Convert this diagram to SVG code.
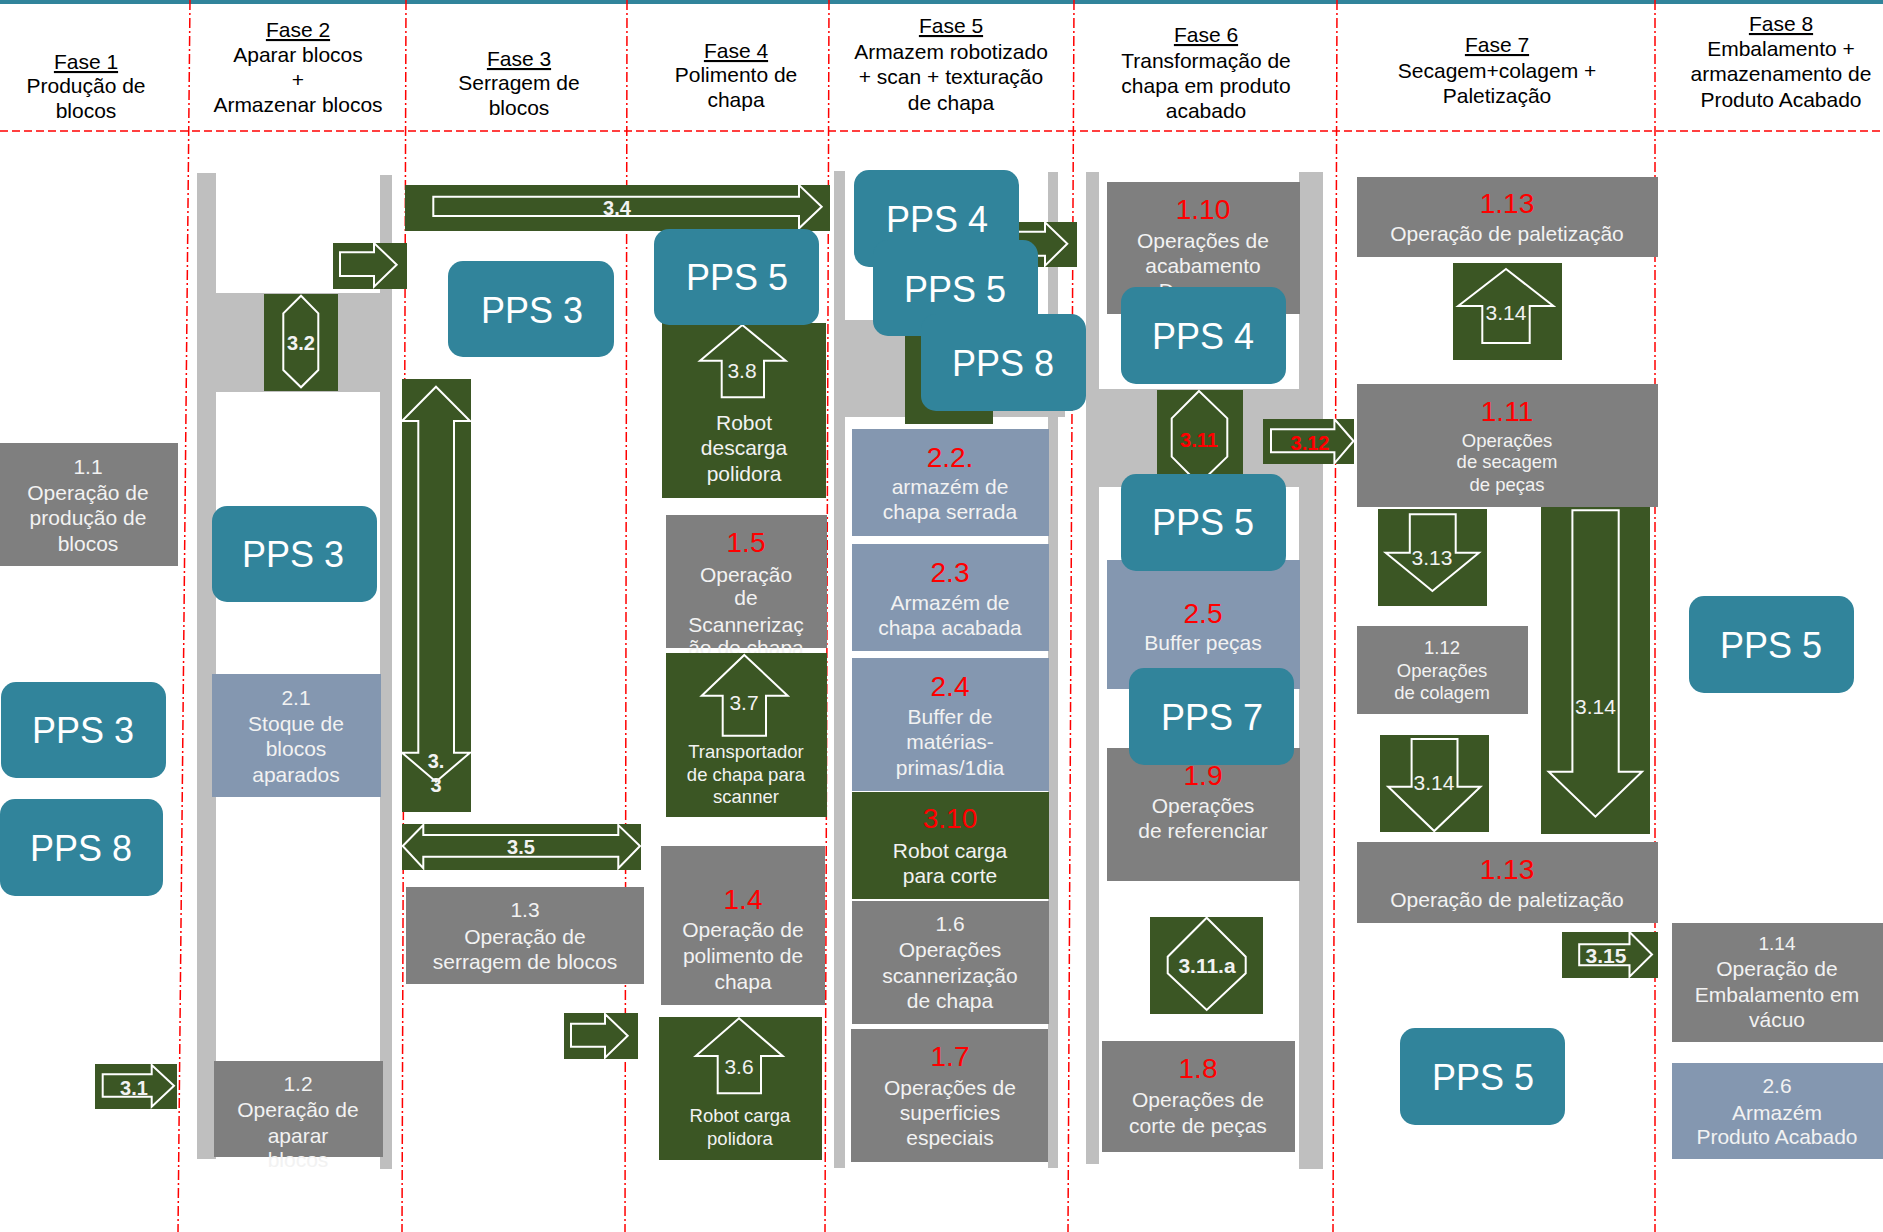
<svg xmlns="http://www.w3.org/2000/svg" width="1883" height="1232" viewBox="0 0 1883 1232">
<style>
text{font-family:"Liberation Sans",Arial,sans-serif;text-anchor:middle}
.hd{font-size:21px;fill:#000}
.u{text-decoration:underline}
.bx{font-size:21px;fill:#F2F2F2}
.sm{font-size:18.5px;fill:#F2F2F2}
.rn{font-size:28px;fill:#FF0000}
.pps{font-size:36px;fill:#FFFFFF}
.al{font-size:21px;fill:#F2F2F2}
.ab{font-size:20px;font-weight:bold;fill:#F2F2F2}
.abr{font-size:20px;font-weight:bold;fill:#FF0000}
.g{fill:#3B5624}
.gr{fill:#7F7F7F}
.bg{fill:#8497B0}
.rail{fill:#BFBFBF}
.pp{fill:#31849B}
.arw{fill:none;stroke:#FFFFFF;stroke-width:2;stroke-linejoin:miter}
.dv{stroke:#FF0000;stroke-width:1.5;stroke-dasharray:10 3 2 3;fill:none}
.dh{stroke:#FF0000;stroke-width:1.5;stroke-dasharray:8 4;fill:none}
</style>

<g id="background">
<rect x="0" y="0" width="1883" height="1232" fill="#FFFFFF"/>
<rect x="0" y="0" width="1883" height="4" fill="#31849B"/>
<line class="dh" x1="0" y1="131" x2="1883" y2="131"/>
<line class="dv" x1="190" y1="0" x2="178" y2="1232"/>
<line class="dv" x1="406" y1="0" x2="402" y2="1232"/>
<line class="dv" x1="627" y1="0" x2="625" y2="1232"/>
<line class="dv" x1="829" y1="0" x2="825" y2="1232"/>
<line class="dv" x1="1074" y1="0" x2="1068" y2="1232"/>
<line class="dv" x1="1337" y1="0" x2="1333" y2="1232"/>
<line class="dv" x1="1655" y1="0" x2="1655" y2="1232"/>
<!-- rails -->
<rect class="rail" x="197" y="173" width="19" height="986"/>
<rect class="rail" x="380" y="175" width="12" height="994"/>
<rect class="rail" x="216" y="293" width="164" height="99"/>
<rect class="rail" x="834" y="171" width="11" height="997"/>
<rect class="rail" x="1048" y="172" width="10" height="996"/>
<rect class="rail" x="845" y="320" width="220" height="97"/>
<rect class="rail" x="1086" y="172" width="13" height="992"/>
<rect class="rail" x="1299" y="172" width="24" height="997"/>
<rect class="rail" x="1099" y="389" width="200" height="98"/>
</g>

<g id="headers">
<text class="hd" x="86"><tspan class="u" x="86" y="69">Fase 1</tspan><tspan x="86" y="93">Produção de</tspan><tspan x="86" y="118">blocos</tspan></text>
<text class="hd"><tspan class="u" x="298" y="37">Fase 2</tspan><tspan x="298" y="62">Aparar blocos</tspan><tspan x="298" y="87">+</tspan><tspan x="298" y="112">Armazenar blocos</tspan></text>
<text class="hd"><tspan class="u" x="519" y="66">Fase 3</tspan><tspan x="519" y="90">Serragem de</tspan><tspan x="519" y="115">blocos</tspan></text>
<text class="hd"><tspan class="u" x="736" y="58">Fase 4</tspan><tspan x="736" y="82">Polimento de</tspan><tspan x="736" y="107">chapa</tspan></text>
<text class="hd"><tspan class="u" x="951" y="33">Fase 5</tspan><tspan x="951" y="59">Armazem robotizado</tspan><tspan x="951" y="84">+ scan + texturação</tspan><tspan x="951" y="110">de chapa</tspan></text>
<text class="hd"><tspan class="u" x="1206" y="42">Fase 6</tspan><tspan x="1206" y="68">Transformação de</tspan><tspan x="1206" y="93">chapa em produto</tspan><tspan x="1206" y="118">acabado</tspan></text>
<text class="hd"><tspan class="u" x="1497" y="52">Fase 7</tspan><tspan x="1497" y="78">Secagem+colagem +</tspan><tspan x="1497" y="103">Paletização</tspan></text>
<text class="hd"><tspan class="u" x="1781" y="31">Fase 8</tspan><tspan x="1781" y="56">Embalamento +</tspan><tspan x="1781" y="81">armazenamento de</tspan><tspan x="1781" y="107">Produto Acabado</tspan></text>
</g>

<g id="connectors">
<g id="c3-1"><rect class="g" x="95" y="1064" width="82" height="45"/><path class="arw" d="M102.7 1074.3H151.7V1065L174 1085.7L151.7 1106.7V1096.7H102.7Z"/><text class="ab" x="134" y="1095">3.1</text></g>
<g id="c3-2"><rect class="g" x="264" y="294" width="74" height="97"/><path class="arw" d="M301 295.7L318.3 313.3V370L301 387.3L283.3 370V313.3Z"/><text class="ab" x="301" y="350">3.2</text></g>
<g id="c-f2"><rect class="g" x="333" y="243" width="74" height="46"/><path class="arw" d="M340 252.3H374V243L396.7 264.7L374 286.7V276H340Z"/></g>
<g id="c3-3"><rect class="g" x="402" y="379" width="69" height="433"/><path class="arw" d="M436 386.7L470 421H454V752.7H470L436 781.7L402 752.7H418.3V421H402Z"/><text class="ab"><tspan x="436" y="768">3.</tspan><tspan x="436" y="792">3</tspan></text></g>
<g id="c3-4"><rect class="g" x="405" y="185" width="425" height="46"/><path class="arw" d="M433.3 196.7H799V185L821.7 206.7L799 228.3V216H433.3Z"/><text class="ab" x="617" y="215">3.4</text></g>
<g id="c3-5"><rect class="g" x="402" y="824" width="239" height="46"/><path class="arw" d="M402.7 846L423.3 825V835H618.3V825L640 846L618.3 868.3V856.7H423.3V868.3Z"/><text class="ab" x="521" y="854">3.5</text></g>
<g id="c-f3"><rect class="g" x="564" y="1013" width="74" height="46"/><path class="arw" d="M571 1023.7H605V1014L627.7 1035.7L605 1057.7V1046.7H571Z"/></g>
<g id="c-f5a"><rect class="g" x="905" y="300" width="88" height="124"/></g>
<g id="c-f5b"><rect class="g" x="1010" y="222" width="67" height="45"/><path class="arw" d="M1012 231.7H1045V222.3L1067.3 243.7L1045 265.7V255.7H1012Z"/></g>
<g id="c3-11"><rect class="g" x="1157" y="390" width="86" height="84"/><path class="arw" d="M1199 391L1227.3 418.3V456.7L1199 484L1171.7 456.7V418.3Z"/><text class="abr" x="1199" y="447">3.11</text></g>
<g id="c3-11a"><rect class="g" x="1150" y="917" width="113" height="97"/><path class="arw" d="M1206.7 917.7L1245.7 956.7V973.3L1206.7 1010L1167.7 973.3V956.7Z"/><text class="ab" x="1207" y="973" style="font-size:21px">3.11.a</text></g>
<g id="c3-12"><rect class="g" x="1263" y="419" width="91" height="45"/><path class="arw" d="M1271 429.3H1334.4V419L1353.5 441L1334.4 463.3V452.3H1271Z"/><text class="abr" x="1310" y="450">3.12</text></g>
<g id="c3-14a"><rect class="g" x="1453" y="263" width="109" height="97"/><path class="arw" d="M1506 269L1553.4 306H1529.7V343H1482.3V306H1458.2Z"/><text class="al" x="1506" y="320">3.14</text></g>
<g id="c3-13"><rect class="g" x="1378" y="509" width="109" height="97"/><path class="arw" d="M1409.8 514.3H1455.7V552.7H1479L1432.4 591L1385.7 552.7H1409.8Z"/><text class="al" x="1432" y="565">3.13</text></g>
<g id="c3-14b"><rect class="g" x="1380" y="735" width="109" height="97"/><path class="arw" d="M1411.6 739H1457.5V786.7H1480.5L1434.2 831L1388.2 786.7H1411.6Z"/><text class="al" x="1434" y="790">3.14</text></g>
<g id="c3-14c"><rect class="g" x="1541" y="507" width="109" height="327"/><path class="arw" d="M1572.4 510.3H1618.7V771.7H1642L1595.4 816.7L1548.7 771.7H1572.4Z"/><text class="al" x="1595.5" y="714">3.14</text></g>
<g id="c3-15"><rect class="g" x="1562" y="932" width="96" height="46"/><path class="arw" d="M1579.2 944.3H1629.5V932L1652 954.5L1629.5 976.7V965.3H1579.2Z"/><text class="ab" x="1606" y="963" style="font-size:21px">3.15</text></g>
</g>

<g id="nodes">
<!-- Phase 1 -->
<g id="n1-1"><rect class="gr" x="0" y="443" width="178" height="123"/><text class="bx"><tspan x="88" y="474">1.1</tspan><tspan x="88" y="500">Operação de</tspan><tspan x="88" y="525">produção de</tspan><tspan x="88" y="551">blocos</tspan></text></g>
<g id="pps3-f1"><rect class="pp" x="1" y="682" width="165" height="96" rx="15"/><text class="pps" x="83" y="743">PPS 3</text></g>
<g id="pps8-f1"><rect class="pp" x="0" y="799" width="163" height="97" rx="15"/><text class="pps" x="81" y="861">PPS 8</text></g>
<!-- Phase 2 -->
<g id="pps3-f2"><rect class="pp" x="212" y="506" width="165" height="96" rx="15"/><text class="pps" x="293" y="567">PPS 3</text></g>
<g id="n2-1"><rect class="bg" x="212" y="674" width="169" height="123"/><text class="bx"><tspan x="296" y="705">2.1</tspan><tspan x="296" y="731">Stoque de</tspan><tspan x="296" y="756">blocos</tspan><tspan x="296" y="782">aparados</tspan></text></g>
<g id="n1-2"><rect class="gr" x="214" y="1061" width="169" height="96"/><text class="bx"><tspan x="298" y="1091">1.2</tspan><tspan x="298" y="1117">Operação de</tspan><tspan x="298" y="1143">aparar</tspan><tspan x="298" y="1167">blocos</tspan></text></g>
<!-- Phase 3 -->
<g id="pps3-f3"><rect class="pp" x="448" y="261" width="166" height="96" rx="15"/><text class="pps" x="532" y="323">PPS 3</text></g>
<g id="n1-3"><rect class="gr" x="406" y="887" width="238" height="97"/><text class="bx"><tspan x="525" y="917">1.3</tspan><tspan x="525" y="944">Operação de</tspan><tspan x="525" y="969">serragem de blocos</tspan></text></g>
<!-- Phase 4 -->
<g id="n3-8"><rect class="g" x="662" y="323" width="164" height="175"/><path class="arw" d="M742.3 325L785.7 360.7H764V397.3H721.7V360.7H700Z"/><text class="al" x="742" y="378">3.8</text><text class="bx"><tspan x="744" y="430">Robot</tspan><tspan x="744" y="455">descarga</tspan><tspan x="744" y="481">polidora</tspan></text></g>
<g id="pps5-f4"><rect class="pp" x="654" y="229" width="165" height="96" rx="15"/><text class="pps" x="737" y="290">PPS 5</text></g>
<g id="n1-5"><rect class="gr" x="666" y="515" width="161" height="133"/><text class="rn" x="746" y="552">1.5</text><text class="bx"><tspan x="746" y="582">Operação</tspan><tspan x="746" y="605">de</tspan><tspan x="746" y="632">Scannerizaç</tspan><tspan x="746" y="655">ão de chapa</tspan></text></g>
<g id="n3-7"><rect class="g" x="666" y="653" width="161" height="164"/><path class="arw" d="M744.3 655L787.7 695.7H766V735.7H722.7V695.7H701.7Z"/><text class="al" x="744" y="710">3.7</text><text class="sm"><tspan x="746" y="758">Transportador</tspan><tspan x="746" y="781">de chapa para</tspan><tspan x="746" y="803">scanner</tspan></text></g>
<g id="n1-4"><rect class="gr" x="661" y="846" width="164" height="159"/><text class="rn" x="743" y="909">1.4</text><text class="bx"><tspan x="743" y="937">Operação de</tspan><tspan x="743" y="963">polimento de</tspan><tspan x="743" y="989">chapa</tspan></text></g>
<g id="n3-6"><rect class="g" x="659" y="1017" width="163" height="143"/><path class="arw" d="M739 1018.3L782.7 1056H761V1093.3H717.7V1056H695.7Z"/><text class="al" x="739" y="1074">3.6</text><text class="sm"><tspan x="740" y="1122">Robot carga</tspan><tspan x="740" y="1145">polidora</tspan></text></g>
<!-- Phase 5 -->
<g id="n2-2"><rect class="bg" x="852" y="429" width="197" height="107"/><text class="rn" x="950" y="467">2.2.</text><text class="bx"><tspan x="950" y="494">armazém de</tspan><tspan x="950" y="519">chapa serrada</tspan></text></g>
<g id="n2-3"><rect class="bg" x="852" y="544" width="197" height="107"/><text class="rn" x="950" y="582">2.3</text><text class="bx"><tspan x="950" y="610">Armazém de</tspan><tspan x="950" y="635">chapa acabada</tspan></text></g>
<g id="n2-4"><rect class="bg" x="852" y="658" width="197" height="133"/><text class="rn" x="950" y="696">2.4</text><text class="bx"><tspan x="950" y="724">Buffer de</tspan><tspan x="950" y="749">matérias-</tspan><tspan x="950" y="775">primas/1dia</tspan></text></g>
<g id="n3-10"><rect class="g" x="852" y="792" width="197" height="107"/><text class="rn" x="950" y="828">3.10</text><text class="bx"><tspan x="950" y="858">Robot carga</tspan><tspan x="950" y="883">para corte</tspan></text></g>
<g id="n1-6"><rect class="gr" x="852" y="901" width="197" height="123"/><text class="bx"><tspan x="950" y="931">1.6</tspan><tspan x="950" y="957">Operações</tspan><tspan x="950" y="983">scannerização</tspan><tspan x="950" y="1008">de chapa</tspan></text></g>
<g id="n1-7"><rect class="gr" x="851" y="1029" width="197" height="133"/><text class="rn" x="950" y="1066">1.7</text><text class="bx"><tspan x="950" y="1095">Operações de</tspan><tspan x="950" y="1120">superficies</tspan><tspan x="950" y="1145">especiais</tspan></text></g>
<g id="pps4-f5"><rect class="pp" x="854" y="170" width="165" height="97" rx="15"/><text class="pps" x="937" y="232">PPS 4</text></g>
<g id="pps5-f5"><rect class="pp" x="873" y="240" width="165" height="96" rx="15"/><text class="pps" x="955" y="302">PPS 5</text></g>
<g id="pps8-f5"><rect class="pp" x="921" y="314" width="165" height="97" rx="15"/><text class="pps" x="1003" y="376">PPS 8</text></g>
<!-- Phase 6 -->
<g id="n1-10"><rect class="gr" x="1107" y="182" width="193" height="132"/><text class="rn" x="1203" y="219">1.10</text><text class="bx"><tspan x="1203" y="248">Operações de</tspan><tspan x="1203" y="273">acabamento</tspan><tspan x="1203" y="298">De peças</tspan></text></g>
<g id="pps4-f6"><rect class="pp" x="1121" y="287" width="165" height="97" rx="15"/><text class="pps" x="1203" y="349">PPS 4</text></g>
<g id="n2-5"><rect class="bg" x="1107" y="560" width="193" height="129"/><text class="rn" x="1203" y="623">2.5</text><text class="bx" x="1203" y="650">Buffer peças</text></g>
<g id="n1-9"><rect class="gr" x="1107" y="748" width="193" height="133"/><text class="rn" x="1203" y="785">1.9</text><text class="bx"><tspan x="1203" y="813">Operações</tspan><tspan x="1203" y="838">de referenciar</tspan></text></g>
<g id="pps5-f6"><rect class="pp" x="1121" y="474" width="165" height="97" rx="15"/><text class="pps" x="1203" y="535">PPS 5</text></g>
<g id="pps7-f6"><rect class="pp" x="1129" y="668" width="165" height="97" rx="15"/><text class="pps" x="1212" y="730">PPS 7</text></g>
<g id="n1-8"><rect class="gr" x="1102" y="1041" width="193" height="111"/><text class="rn" x="1198" y="1078">1.8</text><text class="bx"><tspan x="1198" y="1107">Operações de</tspan><tspan x="1198" y="1133">corte de peças</tspan></text></g>
<!-- Phase 7 -->
<g id="n1-13a"><rect class="gr" x="1357" y="177" width="301" height="80"/><text class="rn" x="1507" y="213">1.13</text><text class="bx" x="1507" y="241">Operação de paletização</text></g>
<g id="n1-11"><rect class="gr" x="1357" y="384" width="301" height="123"/><text class="rn" x="1507" y="421">1.11</text><text class="sm"><tspan x="1507" y="447">Operações</tspan><tspan x="1507" y="468">de secagem</tspan><tspan x="1507" y="491">de peças</tspan></text></g>
<g id="n1-12"><rect class="gr" x="1357" y="626" width="171" height="88"/><text class="sm"><tspan x="1442" y="654">1.12</tspan><tspan x="1442" y="677">Operações</tspan><tspan x="1442" y="699">de colagem</tspan></text></g>
<g id="n1-13b"><rect class="gr" x="1357" y="842" width="301" height="81"/><text class="rn" x="1507" y="879">1.13</text><text class="bx" x="1507" y="907">Operação de paletização</text></g>
<g id="pps5-f7"><rect class="pp" x="1400" y="1028" width="165" height="97" rx="15"/><text class="pps" x="1483" y="1090">PPS 5</text></g>
<!-- Phase 8 -->
<g id="pps5-f8"><rect class="pp" x="1689" y="596" width="165" height="97" rx="15"/><text class="pps" x="1771" y="658">PPS 5</text></g>
<g id="n1-14"><rect class="gr" x="1672" y="923" width="211" height="119"/><text class="bx"><tspan x="1777" y="950" style="font-size:19px">1.14</tspan><tspan x="1777" y="976">Operação de</tspan><tspan x="1777" y="1002">Embalamento em</tspan><tspan x="1777" y="1027">vácuo</tspan></text></g>
<g id="n2-6"><rect class="bg" x="1672" y="1063" width="211" height="96"/><text class="bx"><tspan x="1777" y="1093">2.6</tspan><tspan x="1777" y="1120">Armazém</tspan><tspan x="1777" y="1144">Produto Acabado</tspan></text></g>
</g>
</svg>
